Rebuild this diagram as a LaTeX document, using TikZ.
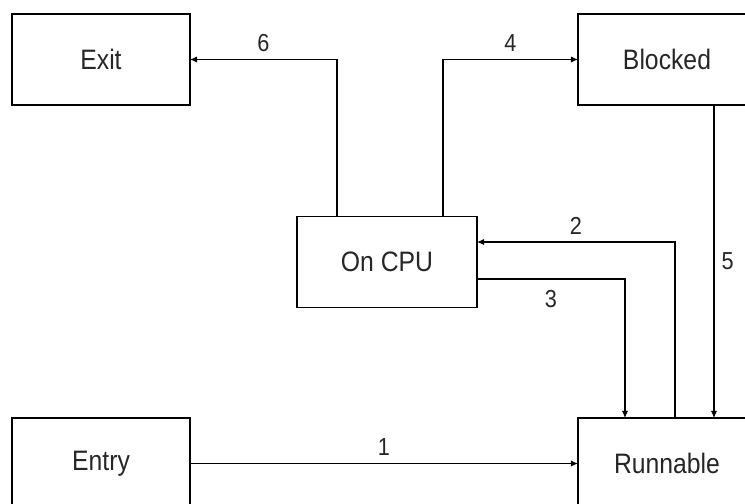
\documentclass[tikz,border=0pt]{standalone}
\usepackage{fontspec}
\setmainfont{Liberation Sans}[FakeStretch=0.88]
\usepackage{tikz}
\usetikzlibrary{arrows.meta,positioning,calc}

\begin{document}
\begin{tikzpicture}[
  node distance=6.26cm and 7.76cm,
  state/.style={draw,line width=0.6pt,minimum height=1.82cm,minimum
              width=3.56cm,inner sep=0pt,outer sep=0pt,text=black!85,
              font=\fontsize{16}{19}\selectfont},
  arr/.style={-{Latex[length=4pt,width=3.5pt]},line width=0.6pt},
  num/.style={font=\fontsize{14}{17}\selectfont,text=black!85,inner sep=4pt}
]
\useasboundingbox (0,0) rectangle (14.9,-10.06);
\node[state] (exit) at (2.02,-1.19) {Exit};
\node[state,right=of exit] (blocked) {Blocked};
\node[state,below=of exit] (entry) {Entry};
\node[state,right=of entry] (runnable) {Runnable};
\node[state,minimum width=3.6cm,below right=2.23cm and 2.14cm of exit] (cpu) {On CPU};

\draw[arr] (entry) -- node[num,above] {1} (runnable);
\draw[arr] ($(runnable.north)+(0.16,0)$) |- node[num,pos=0.75,above] {2}
  ($(cpu.east)+(0,0.4)$);
\draw[arr] ($(cpu.east)+(0,-0.34)$) -| node[num,pos=0.25,below=2pt] {3}
  ($(runnable.north)+(-0.84,0)$);
\draw[arr] ($(cpu.north)+(1.12,0)$) |- node[num,pos=0.75,above] {4} (blocked.west);
\draw[arr] ($(blocked.south)+(0.94,0)$) -- node[num,right] {5}
  ($(runnable.north)+(0.94,0)$);
\draw[arr] ($(cpu.north)+(-1.0,0)$) |- node[num,pos=0.75,above] {6} (exit.east);
\end{tikzpicture}
\end{document}
